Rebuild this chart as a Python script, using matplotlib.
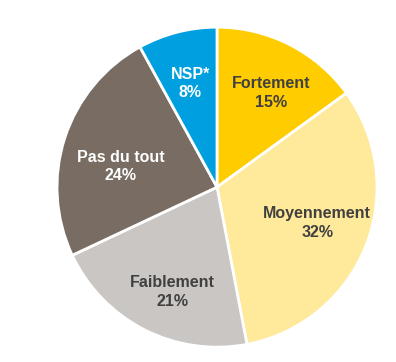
import matplotlib
matplotlib.use("Agg")
import matplotlib.pyplot as plt
import numpy as np

categories = ["Fortement", "Moyennement", "Faiblement", "Pas du tout", "NSP*"]
values = [15, 32, 21, 24, 8]
colors = ["#FFCC00", "#FFE99B", "#CAC6C3", "#786C63", "#009FDF"]
text_colors = ["#404040", "#404040", "#404040", "#FFFFFF", "#FFFFFF"]
label_dist = [0.68, 0.665, 0.71, 0.615, 0.67]
label_nudge_deg = [-3, 2, 4, 6, 0]

plt.rcParams['font.family'] = ['Liberation Sans', 'DejaVu Sans']

fig = plt.figure(figsize=(3.96, 3.62), dpi=100)
ax = fig.add_axes([0.144, 0.041, 0.808, 0.884])

wedges, _ = ax.pie(values, colors=colors, startangle=90, counterclock=False,
                   wedgeprops=dict(edgecolor="white", linewidth=2))
ax.set_aspect("auto")
ax.set_xlim(-1, 1)
ax.set_ylim(-1, 1)

for w, cat, v, tc, d, nd in zip(wedges, categories, values, text_colors,
                                label_dist, label_nudge_deg):
    ang = np.deg2rad((w.theta1 + w.theta2) / 2 + nd)
    x, y = d * np.cos(ang), d * np.sin(ang)
    ax.text(x, y, f"{cat}\n{v}%", ha="center", va="center", color=tc,
            fontsize=11.5, fontweight="bold", linespacing=1.3)

ax.axis("off")
fig.savefig("out.png", dpi=100)
